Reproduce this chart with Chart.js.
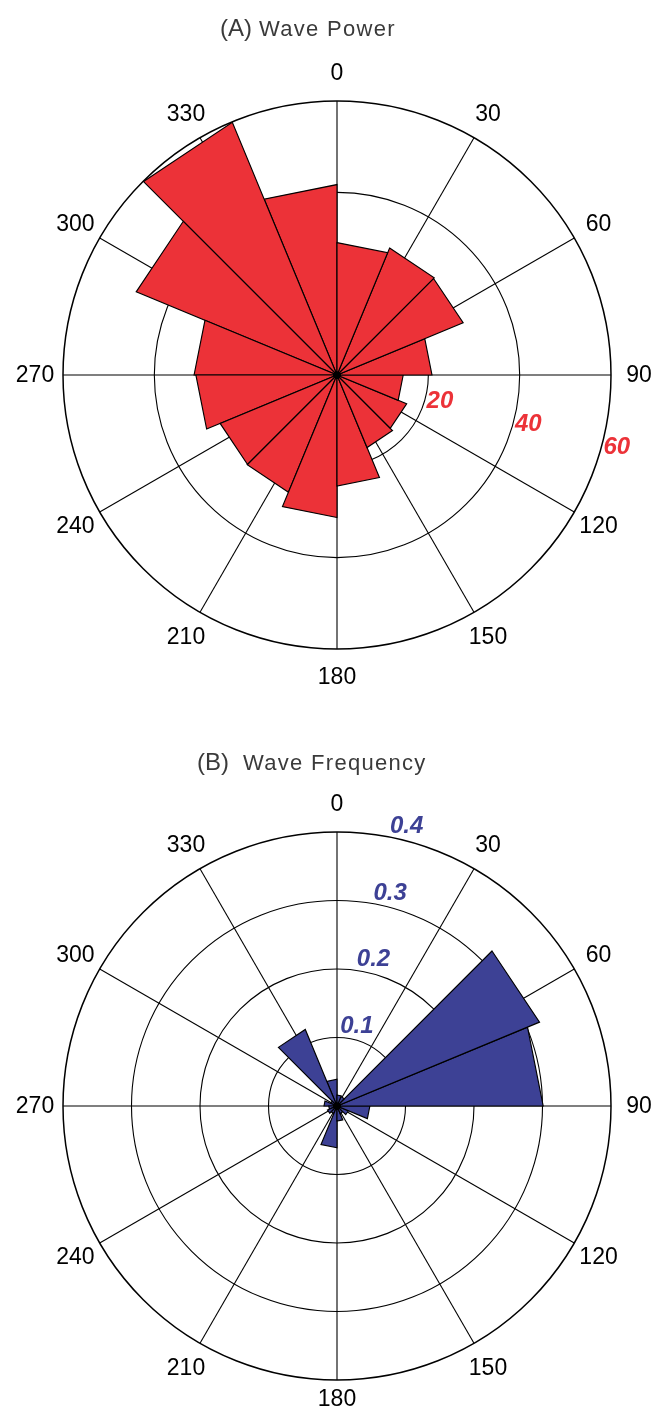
<!DOCTYPE html>
<html>
<head>
<meta charset="utf-8">
<script src="https://cdn.jsdelivr.net/npm/chart.js@4.4.1/dist/chart.umd.min.js"></script>
<style>
  html, body { margin: 0; padding: 0; background: #ffffff; }
  body { position: relative; width: 658px; height: 1410px; overflow: hidden; }
  canvas { position: absolute; left: 0; }
  #powerChart { top: 0; }
  #freqChart { top: 700px; }
</style>
</head>
<body>
<canvas id="powerChart" width="658" height="700"></canvas>
<canvas id="freqChart" width="658" height="710"></canvas>
<script>
// ---------------- DATA ----------------
// 16 direction bins, 22.5 degrees wide, starting at 0 (north), clockwise
const binStartDeg = [0, 22.5, 45, 67.5, 90, 112.5, 135, 157.5, 180, 202.5, 225, 247.5, 270, 292.5, 315, 337.5];
// (A) Wave power per direction bin
const wavePower = [29.0, 30.1, 29.9, 20.8, 14.5, 16.5, 17.2, 24.3, 31.2, 27.8, 27.7, 30.9, 31.3, 47.6, 59.9, 41.7];
// (B) Wave frequency per direction bin
const waveFrequency = [0.016, 0.015, 0.320, 0.301, 0.048, 0.018, 0.012, 0.022, 0.061, 0.012, 0.015, 0.012, 0.019, 0.010, 0.121, 0.039];
// compass (angular) tick labels, every 30 degrees
const compassLabels = ['0', '30', '60', '90', '120', '150', '180', '210', '240', '270', '300', '330'];
// radial ticks
const powerTicks = [20, 40, 60];
const powerTickText = ['20', '40', '60'];
const freqTicks = [0.1, 0.2, 0.3, 0.4];
const freqTickText = ['0.1', '0.2', '0.3', '0.4'];

// ---------------- STRUCTURE ----------------
// angular slots every 7.5 deg: bin edges fall on every 3rd slot, 30-deg spokes on every 4th
const SLOT_DEG = 7.5;
const SLOT_COUNT = 48;
const SLOTS_PER_BIN = 3;
const SLOTS_PER_SPOKE = 4;
const slotLabels = Array.from({ length: SLOT_COUNT }, (_, i) => String(i * SLOT_DEG));

function roseDatasets(values, fillColor) {
  return values.map((v, k) => {
    const data = new Array(SLOT_COUNT).fill(null);
    data[(k * SLOTS_PER_BIN) % SLOT_COUNT] = v;
    data[(k * SLOTS_PER_BIN + SLOTS_PER_BIN) % SLOT_COUNT] = v;
    data[(k * SLOTS_PER_BIN + SLOTS_PER_BIN + 1) % SLOT_COUNT] = 0; // apex at centre
    return {
      label: binStartDeg[k] + '–' + (binStartDeg[k] + 22.5) + '°',
      data,
      spanGaps: true,
      fill: 'origin',
      tension: 0,
      backgroundColor: fillColor,
      borderColor: '#000000',
      borderWidth: 1.15,
      borderJoinStyle: 'miter',
      pointRadius: (c) => (c.raw === 0 ? 3.6 : 0),
      pointBackgroundColor: '#000000',
      pointBorderWidth: 0,
      pointHoverRadius: 0
    };
  });
}

function makeDecor(cfg) {
  return {
    id: 'roseDecor',
    afterDraw(chart) {
      const s = chart.scales.r;
      const ctx = chart.ctx;
      ctx.save();
      // title
      ctx.fillStyle = '#3a3a3a';
      ctx.textAlign = 'left';
      ctx.textBaseline = 'alphabetic';
      ctx.font = '24px "Liberation Sans", Arial, sans-serif';
      ctx.fillText(cfg.tag, cfg.tagX, cfg.titleY);
      ctx.font = '22px "Liberation Sans", Arial, sans-serif';
      if ('letterSpacing' in ctx) ctx.letterSpacing = '1.3px';
      ctx.fillText(cfg.name, cfg.nameX, cfg.titleY);
      if ('letterSpacing' in ctx) ctx.letterSpacing = '0px';
      // compass labels
      ctx.fillStyle = '#000000';
      ctx.font = '23px "Liberation Sans", Arial, sans-serif';
      ctx.textAlign = 'center';
      ctx.textBaseline = 'middle';
      compassLabels.forEach((t, k) => {
        const p = s.getPointPosition(k * SLOTS_PER_SPOKE, s.drawingArea + 28);
        const y = Math.min(p.y + 1, chart.height - 10);
        ctx.fillText(t, p.x, y);
      });
      // radial tick labels
      ctx.fillStyle = cfg.tickColor;
      ctx.font = 'italic bold 24px "Liberation Sans", Arial, sans-serif';
      const a = cfg.tickAngle * Math.PI / 180;
      cfg.ticks.forEach((v, i) => {
        const p = s.getPointPosition(0, s.getDistanceFromCenterForValue(v) + cfg.tickOffset, a);
        ctx.fillText(cfg.tickText[i], p.x, p.y);
      });
      ctx.restore();
    }
  };
}

function roseChart(canvasId, values, fillColor, maxVal, step, padding, decor) {
  return new Chart(document.getElementById(canvasId), {
    type: 'radar',
    data: { labels: slotLabels, datasets: roseDatasets(values, fillColor) },
    options: {
      responsive: false,
      maintainAspectRatio: false,
      devicePixelRatio: 1,
      animation: false,
      events: [],
      layout: { padding },
      plugins: { legend: { display: false }, tooltip: { enabled: false }, title: { display: false } },
      scales: {
        r: {
          min: 0,
          max: maxVal,
          beginAtZero: true,
          ticks: { display: false, stepSize: step },
          pointLabels: { display: false },
          grid: {
            circular: true,
            color: '#000000',
            lineWidth: (c) => (c.tick && c.tick.value >= maxVal - 1e-9 ? 1.5 : 1.1)
          },
          angleLines: {
            display: true,
            color: '#000000',
            lineWidth: (c) => (c.index % SLOTS_PER_SPOKE === 0 ? 1.1 : 0)
          }
        }
      }
    },
    plugins: [makeDecor(decor)]
  });
}

roseChart('powerChart', wavePower, '#ec3238', 60, 20,
  { left: 63, top: 101, right: 47, bottom: 51 },
  { tag: '(A)', name: 'Wave Power', tagX: 220, nameX: 259, titleY: 35.5,
    tickColor: '#ec3238', ticks: powerTicks, tickText: powerTickText, tickAngle: 104.5, tickOffset: 15 });

roseChart('freqChart', waveFrequency, '#3d4195', 0.4, 0.1,
  { left: 63, top: 132, right: 47, bottom: 30 },
  { tag: '(B)', name: 'Wave Frequency', tagX: 197, nameX: 243, titleY: 69.5,
    tickColor: '#3d4195', ticks: freqTicks, tickText: freqTickText, tickAngle: 14, tickOffset: 14 });
</script>
</body>
</html>
